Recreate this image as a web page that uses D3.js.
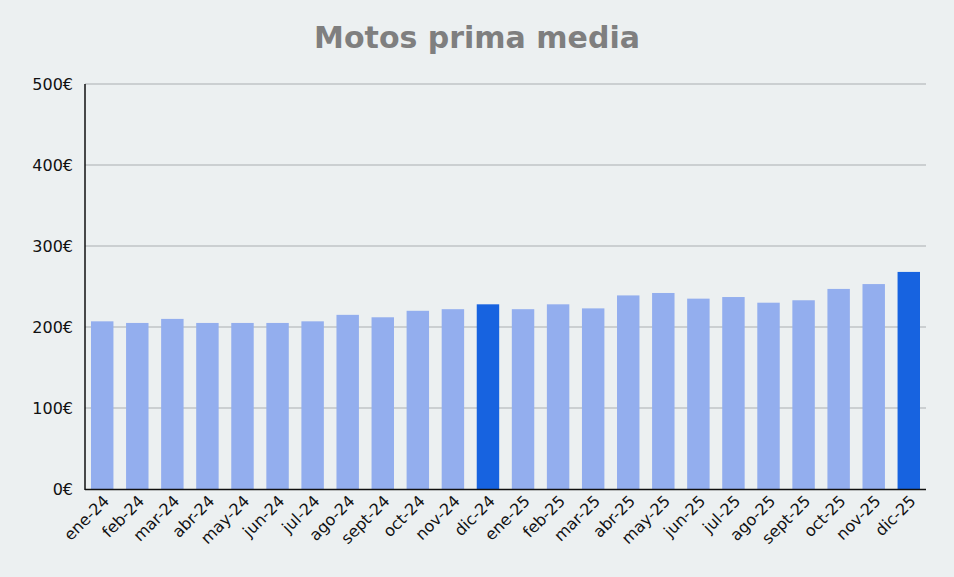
<!DOCTYPE html>
<html><head><meta charset="utf-8">
<script src="https://cdn.jsdelivr.net/npm/d3@7"></script>
<style>body{margin:0;background:#ecf0f1}svg{display:block}</style>
</head><body><svg id="c" width="954" height="577"></svg>
<script>
var months = ['ene-24','feb-24','mar-24','abr-24','may-24','jun-24','jul-24','ago-24','sept-24','oct-24','nov-24','dic-24',
  'ene-25','feb-25','mar-25','abr-25','may-25','jun-25','jul-25','ago-25','sept-25','oct-25','nov-25','dic-25']
var prima = [207,205,210,205,205,205,207,215,212,220,222,228,222,228,223,239,242,235,237,230,233,247,253,268]
var highlight = ['dic-24','dic-25']
var yTicks = [0,100,200,300,400,500]

var svg = d3.select('#c')
svg.append('rect').attr('width',954).attr('height',577).attr('fill','#ecf0f1')
var x = d3.scaleBand().domain(months).range([91,920]).paddingInner(0.36)
var y = d3.scaleLinear().domain([0,500]).range([489,84])

svg.append('text').attr('x',477).attr('y',48).attr('text-anchor','middle')
  .style('font','bold 30px "DejaVu Sans", sans-serif').attr('fill','#7f7f7f').text('Motos prima media')

svg.selectAll('.grid').data(yTicks.slice(1)).enter().append('line')
  .attr('x1',85).attr('x2',926).attr('y1',d => y(d)).attr('y2',d => y(d))
  .attr('stroke','#c0c4c6').attr('stroke-width',1.3)

svg.selectAll('.bar').data(prima).enter().append('rect')
  .attr('x',(d,i) => x(months[i])).attr('width',x.bandwidth())
  .attr('y',d => y(d)).attr('height',d => y(0)-y(d))
  .attr('fill',(d,i) => highlight.includes(months[i]) ? '#1763e0' : '#93aeee')

svg.selectAll('.yl').data(yTicks).enter().append('text')
  .attr('x',73).attr('y',d => y(d)+6).attr('text-anchor','end')
  .style('font','16px "DejaVu Sans", sans-serif').attr('fill','#111').text(d => d + '€')

svg.append('line').attr('x1',85).attr('x2',85).attr('y1',84).attr('y2',490).attr('stroke','#111').attr('stroke-width',1.5)
svg.append('line').attr('x1',85).attr('x2',926).attr('y1',489.5).attr('y2',489.5).attr('stroke','#111').attr('stroke-width',1.5)

svg.selectAll('.xl').data(months).enter().append('text')
  .attr('transform',d => 'translate(' + (x(d)+x.bandwidth()/2+8) + ',502) rotate(-45)')
  .attr('text-anchor','end')
  .style('font','16px "DejaVu Sans", sans-serif').attr('fill','#111').text(d => d)
</script></body></html>
